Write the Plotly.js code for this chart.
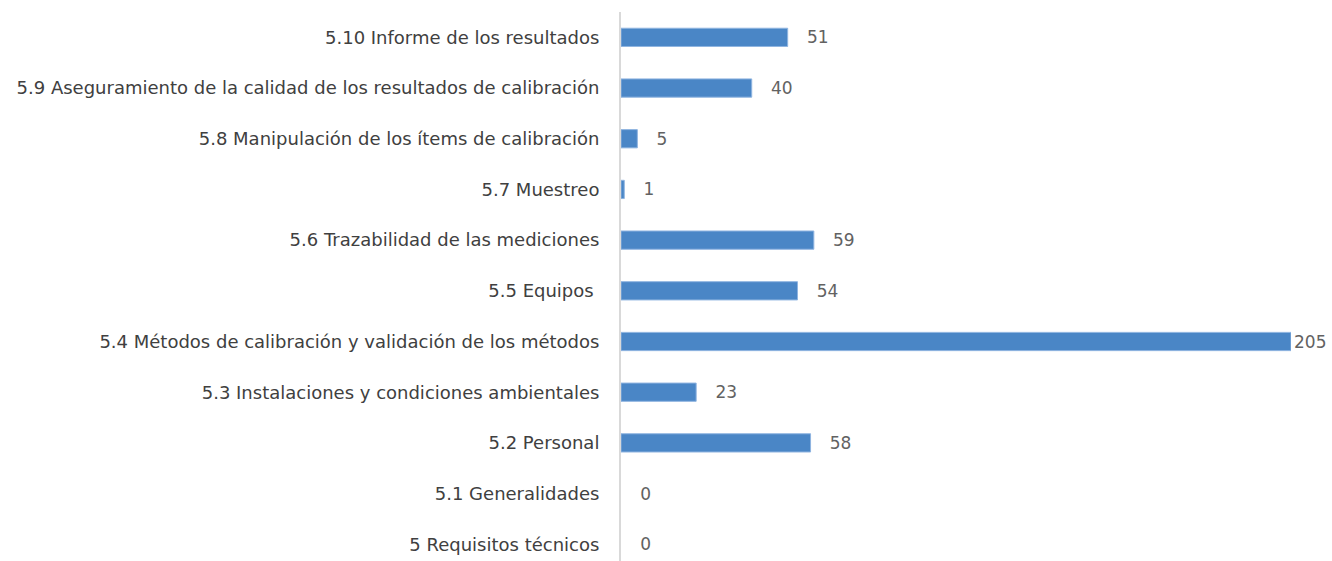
<!DOCTYPE html>
<html>
<head>
<meta charset="utf-8">
<script src="https://cdn.plot.ly/plotly-3.0.1.min.js"></script>
<style>html,body{margin:0;padding:0;background:#fff;}#chart{width:1332px;height:561px;}</style>
</head>
<body>
<div id="chart"></div>
<script>
const categories = [
  "5 Requisitos técnicos",
  "5.1 Generalidades",
  "5.2 Personal",
  "5.3 Instalaciones y condiciones ambientales",
  "5.4 Métodos de calibración y validación de los métodos",
  "5.5 Equipos ",
  "5.6 Trazabilidad de las mediciones",
  "5.7 Muestreo",
  "5.8 Manipulación de los ítems de calibración",
  "5.9 Aseguramiento de la calidad de los resultados de calibración",
  "5.10 Informe de los resultados"
];
const values = [0, 0, 58, 23, 205, 54, 59, 1, 5, 40, 51];
const maxVal = Math.max(...values);
const valueLabels = values.map(v => (v === maxVal ? "" : "\u00a0\u00a0\u00a0") + v);

const trace = {
  type: 'bar',
  orientation: 'h',
  y: categories,
  x: values,
  width: 0.36,
  marker: {color: '#4a86c6', line: {color: '#8fb4e0', width: values.map(v => v ? 1 : 0)}},
  text: valueLabels,
  textposition: 'outside',
  constraintext: 'none',
  cliponaxis: false,
  textfont: {family: 'DejaVu Sans, sans-serif', size: 17, color: '#626262'},
  hoverinfo: 'none'
};

const layout = {
  width: 1332, height: 561,
  margin: {l: 621, r: 41, t: 12, b: 0},
  paper_bgcolor: '#ffffff', plot_bgcolor: '#ffffff',
  showlegend: false,
  font: {family: 'DejaVu Sans, sans-serif', size: 18, color: '#404040'},
  xaxis: {range: [0, 205], visible: false, showgrid: false, zeroline: false, fixedrange: true},
  yaxis: {
    type: 'category',
    range: [-0.33, 10.5],
    showline: true, linecolor: '#d9d9d9', linewidth: 2,
    showgrid: false, zeroline: false,
    ticks: '', ticklabelstandoff: 16,
    tickfont: {family: 'DejaVu Sans, sans-serif', size: 18, color: '#404040'},
    fixedrange: true
  }
};

Plotly.newPlot('chart', [trace], layout, {displayModeBar: false, staticPlot: true});
</script>
</body>
</html>
